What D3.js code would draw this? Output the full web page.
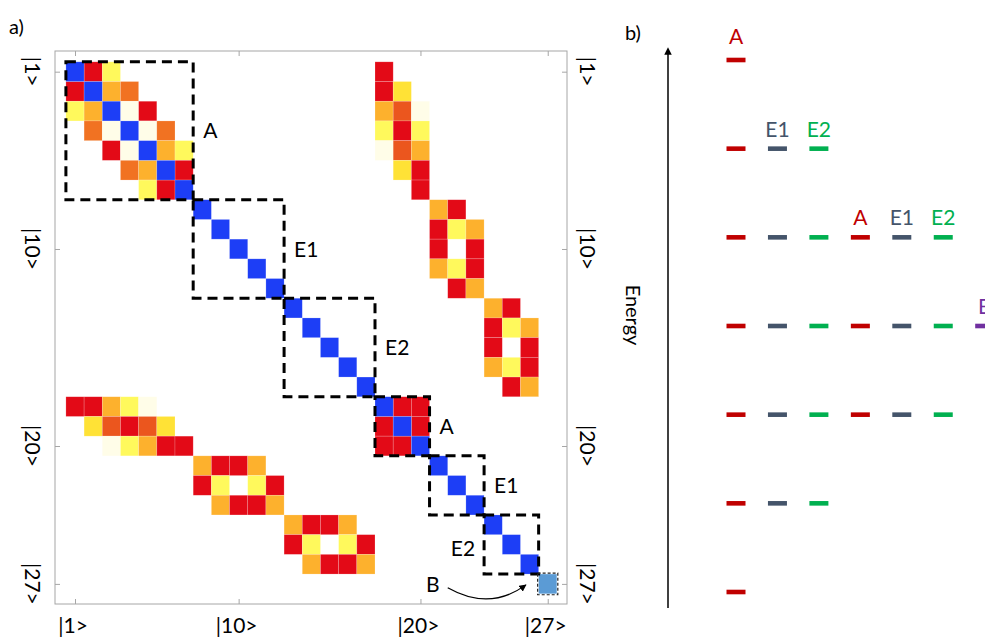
<!DOCTYPE html>
<html>
<head>
<meta charset="utf-8">
<script src="https://cdn.jsdelivr.net/npm/d3@7"></script>
<style>
    body { margin: 0; background: #fff; }
    text { font-family: Lato, "Open Sans", sans-serif; }
</style>
</head>
<body>
<div class="container"></div>
<script>
// ---- data ----
let states = d3.range(1, 28);
let tickStates = [1, 10, 20, 27];

// lower triangle couplings [row, col, level]; the matrix is symmetric
let couplings = [
    [2, 1, "r"],
    [3, 1, "y"], [3, 2, "g"],
    [4, 2, "o"], [4, 3, "c"],
    [5, 3, "r"], [5, 4, "c"],
    [6, 4, "o"], [6, 5, "g"],
    [7, 5, "y"], [7, 6, "r"],
    [18, 1, "r"], [18, 2, "r"], [18, 3, "g"], [18, 4, "y"], [18, 5, "c"],
    [19, 2, "k"], [19, 3, "q"], [19, 4, "r"], [19, 5, "q"], [19, 6, "k"], [19, 18, "r"],
    [20, 3, "c"], [20, 4, "y"], [20, 5, "g"], [20, 6, "r"], [20, 7, "r"], [20, 18, "r"], [20, 19, "r"],
    [21, 8, "g"], [21, 9, "r"], [21, 10, "r"], [21, 11, "g"],
    [22, 8, "r"], [22, 9, "y"], [22, 11, "y"], [22, 12, "r"],
    [23, 9, "g"], [23, 10, "r"], [23, 11, "r"], [23, 12, "g"],
    [24, 13, "g"], [24, 14, "r"], [24, 15, "r"], [24, 16, "g"],
    [25, 13, "r"], [25, 14, "y"], [25, 16, "y"], [25, 17, "r"],
    [26, 14, "g"], [26, 15, "r"], [26, 16, "r"], [26, 17, "g"]
];
let diagonal = states.map(s => s == 27 ? "b" : "d");

let levelCodes = ["d", "b", "r", "q", "o", "g", "k", "y", "c"];
let levelColors = ["#1d3ef6", "#5b9bd5", "#e30a17", "#eb561e", "#f17222", "#fdb12d", "#ffe236", "#fff95c", "#fffde8"];

let blockNames = ["A", "E1", "E2", "A", "E1", "E2"];
let blockStarts = [1, 8, 13, 18, 21, 24];
let blockEnds = [7, 12, 17, 20, 23, 26];

// energy levels (b)
let symTypes = ["A", "E1", "E2", "A", "E1", "E2", "B"];
let levelSizes = [1, 3, 6, 7, 6, 3, 1];
let symNames = ["A", "E1", "E2", "B"];
let symColors = ["#c00000", "#44546a", "#00b050", "#7030a0"];

// ---- svg ----
let svg = d3.select(".container")
    .append("svg")
    .attr("width", 985)
    .attr("height", 640);

svg.append("rect").attr("width", 985).attr("height", 640).attr("fill", "#fff");

let x = d3.scaleLinear().domain([-0.1, 28.06]).range([55, 567]);
let y = d3.scaleLinear().domain([-0.05, 28.02]).range([51, 604]);
let color = d3.scaleOrdinal().domain(levelCodes).range(levelColors);

let cells = [];
couplings.forEach(c => {
    cells.push({i: c[0], j: c[1], v: c[2]});
    cells.push({i: c[1], j: c[0], v: c[2]});
});
states.forEach((s, k) => cells.push({i: s, j: s, v: diagonal[k]}));

svg.append("text").attr("x", 9).attr("y", 34).attr("font-size", 20).text("a)");

// frame
svg.append("rect")
    .attr("x", x(-0.1)).attr("y", y(-0.05))
    .attr("width", x(28.06) - x(-0.1))
    .attr("height", y(28.02) - y(-0.05))
    .attr("fill", "none")
    .attr("stroke", "#a6a6a6");

let axes = [
    [d3.axisTop(x), "translate(0," + y(-0.05) + ")"],
    [d3.axisBottom(x), "translate(0," + y(28.02) + ")"],
    [d3.axisLeft(y), "translate(" + x(-0.1) + ",0)"],
    [d3.axisRight(y), "translate(" + x(28.06) + ",0)"]
];
axes.forEach(a => {
    let g = svg.append("g")
        .attr("transform", a[1])
        .call(a[0].tickValues(tickStates).tickSize(-5).tickFormat(""));
    g.select(".domain").remove();
    g.selectAll("line").attr("stroke", "#a6a6a6");
});

// tick labels
svg.append("g").selectAll("text")
    .data(tickStates)
    .enter()
    .append("text")
    .attr("x", d => x(d) - 2)
    .attr("y", 633)
    .attr("text-anchor", "middle")
    .attr("font-size", 21)
    .text(d => "|" + d + ">");

[32, 587].forEach(px => {
    svg.append("g").selectAll("text")
        .data(tickStates)
        .enter()
        .append("text")
        .attr("transform", d => "translate(" + px + "," + y(d) + ") rotate(90)")
        .attr("text-anchor", "middle")
        .attr("dy", "0.35em")
        .attr("font-size", 21)
        .text(d => "|" + d + ">");
});

// matrix cells
svg.append("g")
    .selectAll("rect")
    .data(cells)
    .enter()
    .append("rect")
    .attr("x", d => x(d.j - 0.5))
    .attr("y", d => y(d.i - 0.5))
    .attr("width", d => x(d.j + 0.5) - x(d.j - 0.5))
    .attr("height", d => y(d.i + 0.5) - y(d.i - 0.5))
    .attr("fill", d => color(d.v))
    .attr("stroke", "#fff")
    .attr("stroke-opacity", 0.3)
    .attr("stroke-width", 0.6);

// dashed blocks
let blocks = blockNames.map((n, k) => ({name: n, a: blockStarts[k], b: blockEnds[k], left: k == 5}));
let bg = svg.append("g");
bg.selectAll("rect")
    .data(blocks)
    .enter()
    .append("rect")
    .attr("x", d => x(d.a - 0.5))
    .attr("y", d => y(d.a - 0.5))
    .attr("width", d => x(d.b + 0.5) - x(d.a - 0.5))
    .attr("height", d => y(d.b + 0.5) - y(d.a - 0.5))
    .attr("fill", "none")
    .attr("stroke", "#000")
    .attr("stroke-width", 3)
    .attr("stroke-dasharray", "10,6");

bg.selectAll("text")
    .data(blocks)
    .enter()
    .append("text")
    .attr("x", d => d.left ? x(d.a - 0.5) - 9 : x(d.b + 0.5) + 10)
    .attr("y", d => y(d.left ? d.b - 0.8 : (d.a + d.b) / 2))
    .attr("dy", "0.36em")
    .attr("text-anchor", d => d.left ? "end" : "start")
    .attr("font-size", 21)
    .text(d => d.name);

// B state
svg.append("rect")
    .attr("x", x(26.5) - 1).attr("y", y(26.5) - 1)
    .attr("width", x(27.5) - x(26.5) + 2)
    .attr("height", y(27.5) - y(26.5) + 2)
    .attr("fill", "none")
    .attr("stroke", "#222")
    .attr("stroke-width", 1.2)
    .attr("stroke-dasharray", "3,2");

svg.append("text")
    .attr("x", x(20.3)).attr("y", y(27.05))
    .attr("dy", "0.36em")
    .attr("font-size", 21)
    .text("B");

svg.append("defs").append("marker")
    .attr("id", "head")
    .attr("viewBox", "0 0 10 10")
    .attr("refX", 9).attr("refY", 5)
    .attr("markerWidth", 6).attr("markerHeight", 6)
    .attr("orient", "auto")
    .append("path").attr("d", "M0,0L10,5L0,10z").attr("fill", "#000");

svg.append("path")
    .attr("d", "M" + x(21.5) + "," + y(27.2) + " Q" + x(23.8) + "," + y(28.4) + " " + x(25.8) + "," + y(27.05))
    .attr("fill", "none")
    .attr("stroke", "#000")
    .attr("stroke-width", 1.2)
    .attr("marker-end", "url(#head)");

// ---- b) energy diagram ----
let ex = d3.scaleLinear().domain([0, 6]).range([736, 984.7]);
let ey = d3.scaleLinear().domain([0, 6]).range([60, 592]);
let symColor = d3.scaleOrdinal().domain(symNames).range(symColors);

svg.append("text").attr("x", 625).attr("y", 40).attr("font-size", 20).text("b)");

svg.append("defs").append("marker")
    .attr("id", "up")
    .attr("viewBox", "0 0 10 10")
    .attr("refX", 5).attr("refY", 5)
    .attr("markerWidth", 5).attr("markerHeight", 5)
    .attr("orient", "auto")
    .append("path").attr("d", "M0,0L10,5L0,10z").attr("fill", "#000");

svg.append("line")
    .attr("x1", 668).attr("x2", 668)
    .attr("y1", 608).attr("y2", 51)
    .attr("stroke", "#000")
    .attr("stroke-width", 1.5)
    .attr("marker-end", "url(#up)");

svg.append("text")
    .attr("transform", "translate(633,315) rotate(90)")
    .attr("text-anchor", "middle")
    .attr("dy", "0.35em")
    .attr("font-size", 20)
    .text("Energy");

let dashes = [];
levelSizes.forEach((n, l) => {
    d3.range(n).forEach(k => dashes.push({level: l, col: k, sym: symTypes[k]}));
});

svg.append("g")
    .selectAll("rect")
    .data(dashes)
    .enter()
    .append("rect")
    .attr("x", d => ex(d.col) - 9.5)
    .attr("y", d => ey(d.level) - 2.3)
    .attr("width", 19)
    .attr("height", 4.6)
    .attr("fill", d => symColor(d.sym));

// label each column at the highest level where it first appears
let labels = symTypes.map((s, k) => ({sym: s, col: k, level: levelSizes.findIndex(n => n > k)}));
svg.append("g")
    .selectAll("text")
    .data(labels)
    .enter()
    .append("text")
    .attr("x", d => ex(d.col))
    .attr("y", d => ey(d.level) - (d.level == 0 ? 16 : 12))
    .attr("text-anchor", "middle")
    .attr("font-size", 21)
    .attr("fill", d => symColor(d.sym))
    .text(d => d.sym);
</script>
</body>
</html>
